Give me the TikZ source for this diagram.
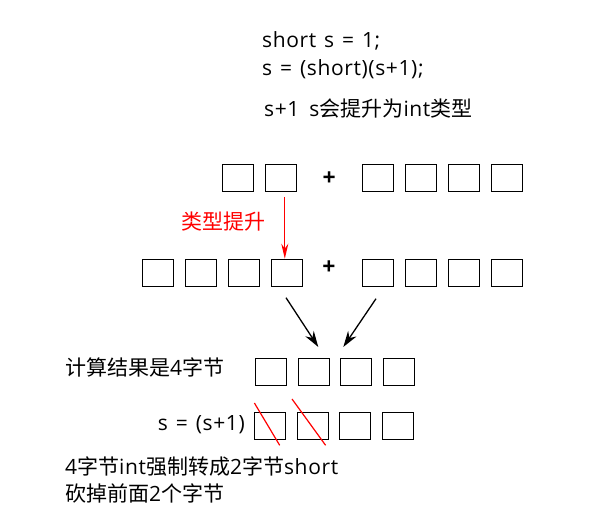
\documentclass[tikz,border=0pt]{standalone}
\usepackage{fontspec}
\setmainfont[LetterSpace=3,WordSpace=1.3]{Open Sans}
\newfontfamily\cjk{Noto Sans CJK SC}
\usetikzlibrary{arrows.meta}

\begin{document}
\begin{tikzpicture}
    [x=1pt,y=-1pt,every node/.style={inner sep=0pt},
     cell/.style={draw,line width=1pt,minimum width=31pt,minimum height=27pt},
     txt/.style={anchor=base west,font=\fontsize{21}{25}\selectfont},
     plus/.style={font=\fontsize{23}{27}\selectfont\bfseries}]
    \useasboundingbox (0,0) rectangle (590,526);

    % code lines
    \node[txt] (code1) at (262,47.5) {short s = 1;};
    \node[txt] (code2) at (262,76) {s = (short)(s+1);};
    \node[txt] (note) at (264,117) {s+1\hspace{10pt}s{\cjk 会提升为}int{\cjk 类型}};

    % short + int
    \node[cell] (a1) at (237.8,178) {};
    \node[cell] (a2) at (280.7,178) {};
    \node[plus] (p1) at (329.3,179) {+};
    \node[cell] (a3) at (377.8,178) {};
    \node[cell] (a4) at (421,178) {};
    \node[cell] (a5) at (463.8,178) {};
    \node[cell] (a6) at (507,178) {};

    % int + int
    \node[cell] (b1) at (157.8,272.7) {};
    \node[cell] (b2) at (201,272.7) {};
    \node[cell] (b3) at (243.8,272.7) {};
    \node[cell] (b4) at (286.8,272.7) {};
    \node[plus] (p2) at (329,268) {+};
    \node[cell] (b5) at (377.8,272.7) {};
    \node[cell] (b6) at (421,272.7) {};
    \node[cell] (b7) at (463.8,272.7) {};
    \node[cell] (b8) at (507,272.7) {};

    \draw[red,line width=1.3pt,shorten <=5pt,-{Stealth[length=15pt,width=7pt]}]
        ([xshift=-2pt]b4.north |- a2.south) -- ([xshift=-2pt]b4.north);
    \node[txt,red] (promo) at (181,229.5) {\cjk 类型提升};

    % result
    \node[txt] (res) at (65,376) {{\cjk 计算结果是}4{\cjk 字节}};
    \node[cell] (c1) at (270.7,372) {};
    \node[cell] (c2) at (313.8,372) {};
    \node[cell] (c3) at (355.8,372) {};
    \node[cell] (c4) at (398.8,372) {};

    \draw[line width=1.3pt,-{Stealth[length=16pt,width=10pt]}]
        ([xshift=-0.8pt,yshift=-11pt]b4.south) -- ([xshift=4.5pt,yshift=11pt]c2.north);
    \draw[line width=1.3pt,-{Stealth[length=16pt,width=10pt]}]
        ([xshift=-1.8pt,yshift=-12pt]b5.south) -- ([xshift=-12.5pt,yshift=11pt]c3.north);

    % cast back to short
    \node[txt,anchor=base east] (cast) at (245,431) {s = (s+1)};
    \node[cell] (d1) at (269.7,426) {};
    \node[cell] (d2) at (313,426) {};
    \node[cell] (d3) at (355,426) {};
    \node[cell] (d4) at (397.8,426) {};

    \draw[red,line width=1.2pt] ([shift={(0.7,-9)}]d1.north west) -- ([shift={(-6,5.3)}]d1.south east);
    \draw[red,line width=1.2pt] ([shift={(-5,-13)}]d2.north west) -- ([shift={(-3.4,5.3)}]d2.south east);

    \node[txt] (exp1) at (65,475) {4{\cjk 字节}int{\cjk 强制转成}2{\cjk 字节}short};
    \node[txt] (exp2) at (65,501.5) {{\cjk 砍掉前面}2{\cjk 个字节}};
\end{tikzpicture}
\end{document}
